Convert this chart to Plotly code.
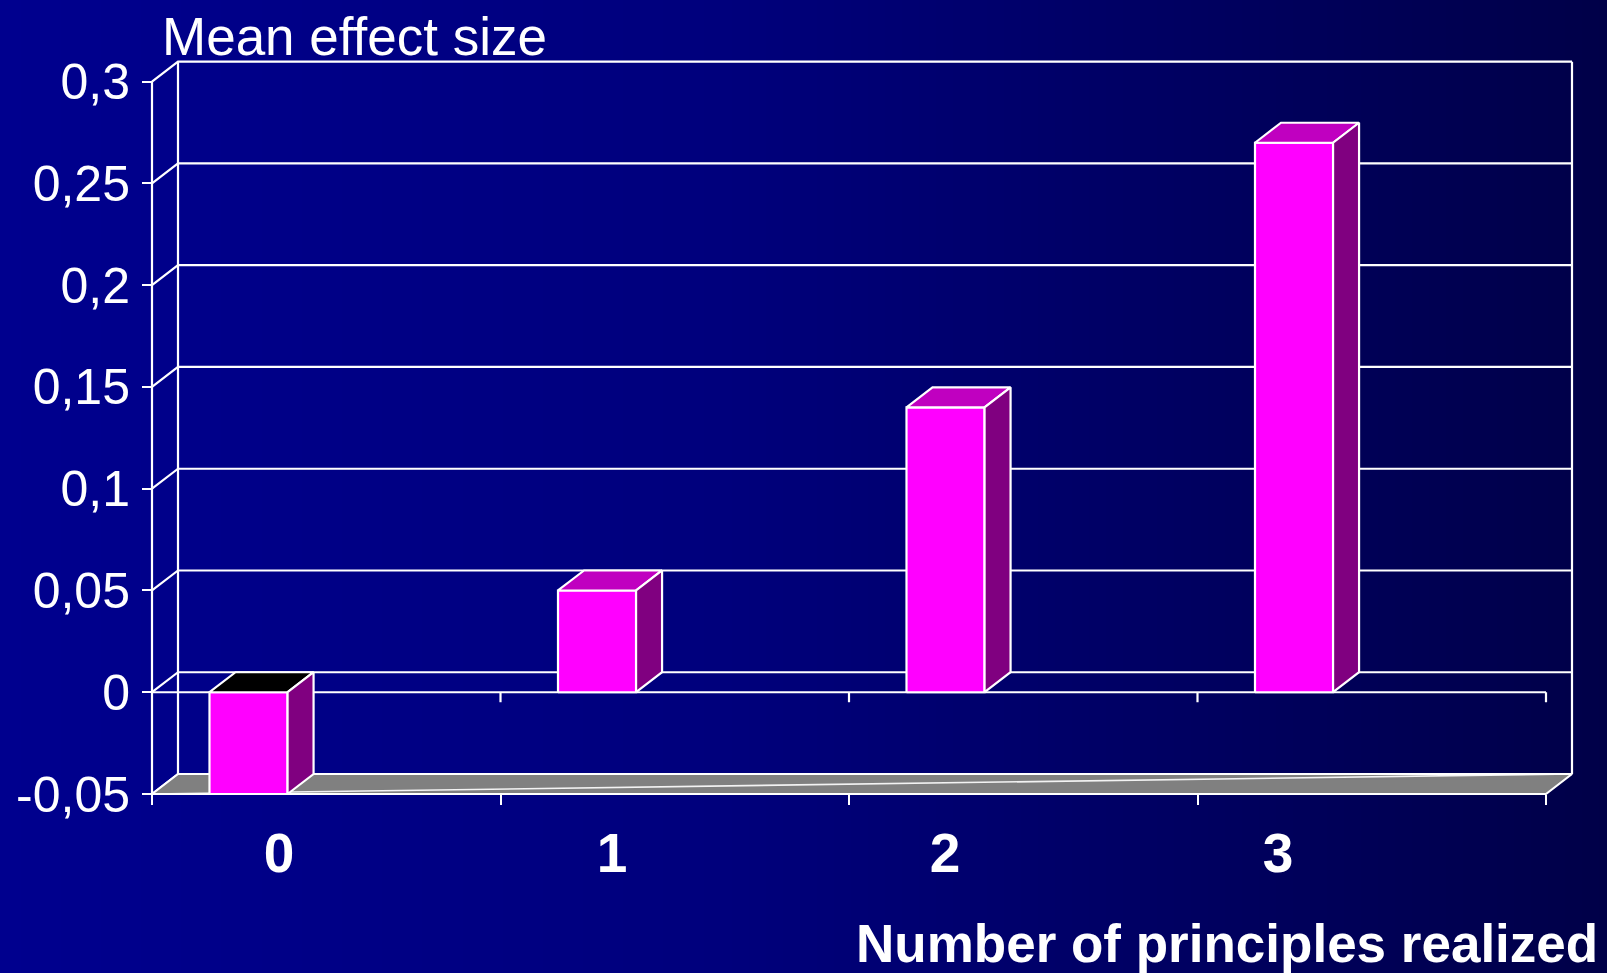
import plotly.graph_objects as go

# ---------------- data ----------------
categories = ["0", "1", "2", "3"]
values = [-0.05, 0.05, 0.14, 0.27]
y_tickvals = [-0.05, 0, 0.05, 0.1, 0.15, 0.2, 0.25, 0.3]
y_ticktext = ["-0,05", "0", "0,05", "0,1", "0,15", "0,2", "0,25", "0,3"]
y_title = "Mean effect size"
x_title = "Number of principles realized"

# ---------------- layout geometry (pixels of the page) ----------------
W, H = 1607, 973
FX0, FX1 = 152.0, 1546.0        # front plane: left / right edge
FY_MIN, FY_MAX = 794.0, 81.7    # front plane: y of axis min / max
Y_MIN, Y_MAX = -0.05, 0.3
n = len(categories)
SX = (FX1 - FX0) / n
SY = (FY_MIN - FY_MAX) / (Y_MAX - Y_MIN)
DX = 26.0 / SX                  # 3D depth offset (data units)
DY = 20.0 / SY
BAR_LEFT, BAR_RIGHT = 0.165, 0.389   # bar position inside its category slot
TICK = 10.0 / SY

# plot area (pixels) -> domain / range
PL, PR, PT, PB = 110.0, 1600.0, 30.0, 830.0
x_dom = [PL / W, PR / W]
x_rng = [-0.5 + (PL - FX0) / SX, -0.5 + (PR - FX0) / SX]
y_dom = [1 - PB / H, 1 - PT / H]
y_rng = [Y_MIN - (PB - FY_MIN) / SY, Y_MIN + (FY_MIN - PT) / SY]

# category label axis
LBL_X0, LBL_STEP = 279.0, 333.0
lbl_dom = [(LBL_X0 - 0.5 * LBL_STEP) / W, (LBL_X0 + (n - 0.5) * LBL_STEP) / W]

LINE = "white"
LW = 2.2
FRONT, TOP, SIDE, NEG_TOP, FLOOR = "#FF00FF", "#C000C0", "#800080", "#000000", "#808080"
FONT = "Liberation Sans, Arial, sans-serif"

fig = go.Figure()

# background gradient (full page)
fig.add_trace(go.Heatmap(
    z=[[0, 1], [0, 1]], x=[0, 1], y=[0, 1],
    colorscale=[[0, "rgb(0,0,142)"], [0.45, "rgb(0,0,124)"], [1, "rgb(0,0,72)"]],
    zsmooth="best", showscale=False, hoverinfo="skip", xaxis="x", yaxis="y"))

def add_line(xs, ys, color=LINE, width=LW):
    fig.add_trace(go.Scatter(x=xs, y=ys, mode="lines", line=dict(color=color, width=width),
                             hoverinfo="skip", showlegend=False, xaxis="x2", yaxis="y2"))

def add_poly(xs, ys, fill):
    fig.add_trace(go.Scatter(x=xs, y=ys, mode="lines", fill="toself", fillcolor=fill,
                             line=dict(color=LINE, width=LW),
                             hoverinfo="skip", showlegend=False, xaxis="x2", yaxis="y2"))

# side wall diagonals + back wall gridlines
gx, gy = [], []
for v in y_tickvals:
    gx += [-0.5, -0.5 + DX, n - 0.5 + DX, None]
    gy += [v, v + DY, v + DY, None]
gx += [-0.5 + DX, -0.5 + DX, None, n - 0.5 + DX, n - 0.5 + DX, None]
gy += [Y_MIN + DY, Y_MAX + DY, None, Y_MIN + DY, Y_MAX + DY, None]
add_line(gx, gy)

# floor
add_poly([-0.5, n - 0.5, n - 0.5 + DX, -0.5 + DX, -0.5],
         [Y_MIN, Y_MIN, Y_MIN + DY, Y_MIN + DY, Y_MIN], FLOOR)
add_line([-0.5, n - 0.5 + DX], [Y_MIN, Y_MIN + DY], color="rgba(255,255,255,0.9)", width=1.6)

# front axis lines
fx, fy = [-0.5, -0.5, None, -0.5, n - 0.5, None, -0.5, n - 0.5, None], \
         [Y_MIN, Y_MAX, None, 0, 0, None, Y_MIN, Y_MIN, None]
for k in range(n):
    fx += [k + 0.5, k + 0.5, None]
    fy += [0, -TICK, None]
add_line(fx, fy)

# 3D bars
for i, v in enumerate(values):
    L, R = i - 0.5 + BAR_LEFT, i - 0.5 + BAR_RIGHT
    lo, hi = min(0, v), max(0, v)
    add_poly([L, R, R, L, L], [lo, lo, hi, hi, lo], FRONT)
    add_poly([L, R, R + DX, L + DX, L], [hi, hi, hi + DY, hi + DY, hi], TOP if v > 0 else NEG_TOP)
    add_poly([R, R + DX, R + DX, R, R], [lo, lo + DY, hi + DY, hi, lo], SIDE)

# dummy trace for the category-label axis
fig.add_trace(go.Scatter(x=[0], y=[0], mode="markers", marker=dict(opacity=0),
                         hoverinfo="skip", showlegend=False, xaxis="x3", yaxis="y2"))

fig.update_layout(
    width=W, height=H, autosize=False,
    margin=dict(l=0, r=0, t=0, b=0),
    paper_bgcolor="rgb(0,0,120)", plot_bgcolor="rgba(0,0,0,0)",
    showlegend=False,
    xaxis=dict(domain=[0, 1], range=[0, 1], visible=False, fixedrange=True),
    yaxis=dict(domain=[0, 1], range=[0, 1], visible=False, fixedrange=True),
    xaxis2=dict(domain=x_dom, range=x_rng, anchor="free", position=1 - FY_MIN / H,
                showgrid=False, zeroline=False, showline=False,
                tickmode="array", tickvals=[k - 0.5 for k in range(n + 1)],
                ticks="outside", ticklen=10, tickwidth=2.2, tickcolor=LINE,
                showticklabels=False, fixedrange=True),
    yaxis2=dict(domain=y_dom, range=y_rng, anchor="free", position=FX0 / W, side="left",
                showgrid=False, zeroline=False, showline=False,
                tickmode="array", tickvals=y_tickvals, ticktext=y_ticktext,
                ticks="outside", ticklen=10, tickwidth=2.2, tickcolor=LINE,
                ticklabelstandoff=2,
                tickfont=dict(family=FONT, size=50, color="white"), fixedrange=True),
    xaxis3=dict(domain=lbl_dom, range=[-0.5, n - 0.5], anchor="free", position=1 - FY_MIN / H,
                showgrid=False, zeroline=False, showline=False, ticks="",
                tickmode="array", tickvals=list(range(n)), ticktext=categories,
                ticklabelstandoff=22,
                tickfont=dict(family=FONT, size=55, color="white", weight="bold"), fixedrange=True),
    annotations=[
        dict(text=y_title, xref="paper", yref="paper", x=160 / W, y=1 - 36 / H,
             xanchor="left", yanchor="middle", showarrow=False,
             font=dict(family=FONT, size=53, color="white")),
        dict(text=x_title, xref="paper", yref="paper", x=1600 / W, y=1 - 943 / H,
             xanchor="right", yanchor="middle", showarrow=False,
             font=dict(family=FONT, size=53, color="white", weight="bold")),
    ],
)

fig.write_html("out.html")
